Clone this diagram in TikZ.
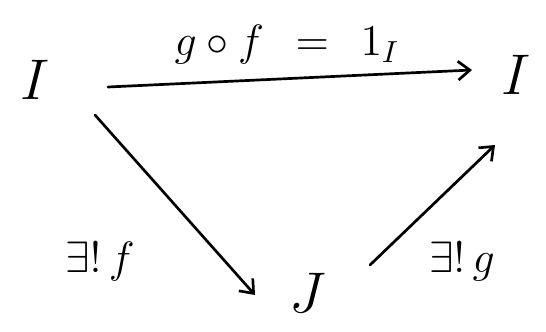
\documentclass[tikz,border=0pt]{standalone}
\usepackage{amsmath,amssymb}
\usetikzlibrary{arrows.meta,positioning}

\begin{document}
\begin{tikzpicture}[
  x=0.03cm, y=-0.03cm,
  obj/.style={inner sep=1pt, font=\Large, scale=3.4, transform shape},
  lbl/.style={inner sep=0pt, font=\Large, scale=2.6, transform shape},
  arr/.style={-{Straight Barb[length=10pt,width=16pt]}, line width=2.3pt, line cap=round}
]
\useasboundingbox (0,0) rectangle (546,332);
\node[obj] (Ia) at (35,80) {$I$};
\node[obj] (Ib) at (516,75) {$I$};
\node[obj] (J) at (308,293) {$J$};
\draw[arr] ([shift={(73,7)}]Ia.center) -- ([shift={(-44,-5)}]Ib.center);
\draw[arr] ([shift={(60,35)}]Ia.center) -- ([shift={(-53,2)}]J.center);
\draw[arr] ([shift={(62,-28)}]J.center) -- ([shift={(-21,70)}]Ib.center);
\node[lbl] (top) at (287,45) {$g\circ f\;\,=\;\,1_I$};
\node[lbl] (lf) at (100,262) {$\exists!\,f$};
\node[lbl] (lg) at (462,262) {$\exists!\,g$};
\end{tikzpicture}
\end{document}
